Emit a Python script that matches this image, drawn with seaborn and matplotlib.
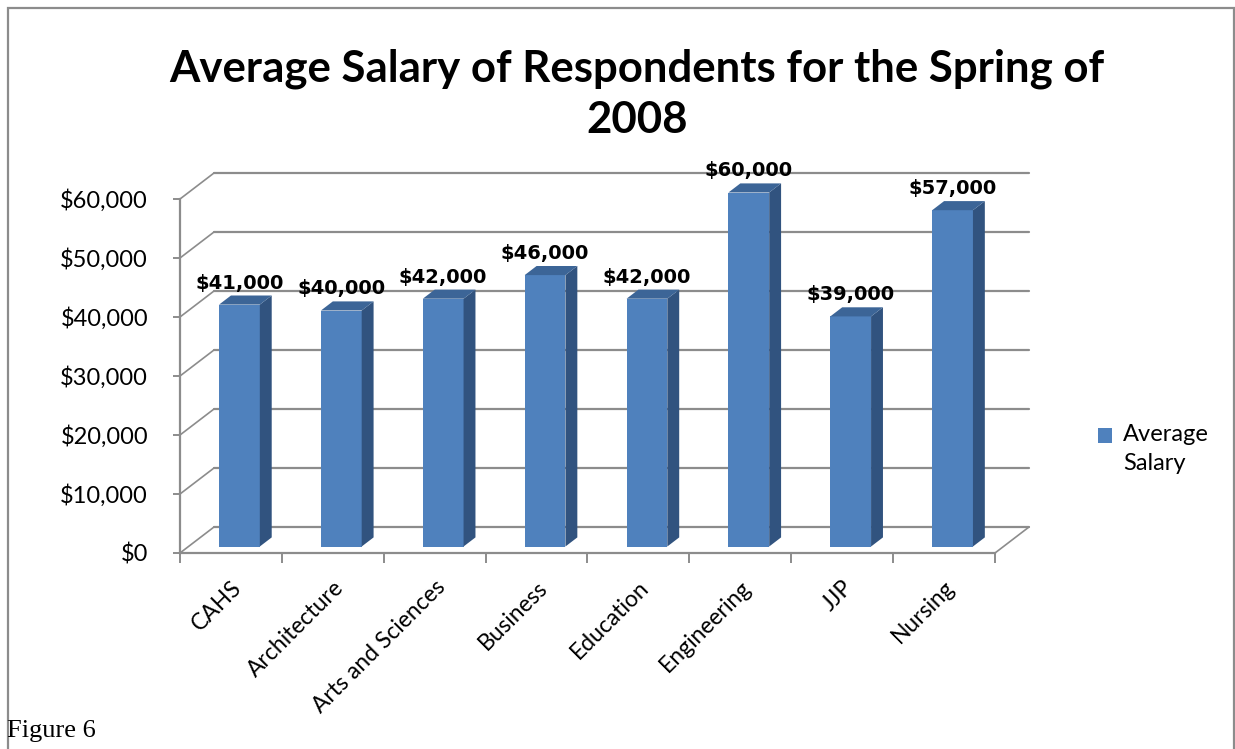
import matplotlib
matplotlib.use("Agg")
import matplotlib.pyplot as plt
import matplotlib.patches as mpatches
import matplotlib.transforms as mtransforms
import matplotlib.ticker as ticker
import seaborn as sns

# Data
schools = ["CAHS", "Architecture", "Arts and Sciences", "Business",
           "Education", "Engineering", "JJP", "Nursing"]
salary = [41000, 40000, 42000, 46000, 42000, 60000, 39000, 57000]
y_ticks = [0, 10000, 20000, 30000, 40000, 50000, 60000]

front_col = "#4F81BD"
side_col = "#31537F"
top_col = "#3C6597"
grid_col = "#8C8C8C"

sns.set_theme(style="white")
plt.rcParams["font.family"] = ["Lato", "DejaVu Sans"]
plt.rcParams["text.color"] = "black"
plt.rcParams["xtick.color"] = "black"
plt.rcParams["ytick.color"] = "black"

W, H = 1235, 749
fig = plt.figure(figsize=(W / 100, H / 100), dpi=100)
ax = fig.add_axes([180 / W, (H - 553) / H, 815 / W, 354 / H])

ax.set_xlim(-0.5, len(schools) - 0.5)
ax.set_ylim(0, 60000)

# pixel -> data conversion for the fake 3D depth
p0 = ax.transData.transform((0, 0))
p1 = ax.transData.transform((1, 10000))
px_per_x = p1[0] - p0[0]
px_per_y = (p1[1] - p0[1]) / 10000
ddx = 34 / px_per_x
ddy = 26 / px_per_y
a, b = 0.25, 0.6  # bar front / back depth fraction

# back wall gridlines and left wall diagonals
x_left, x_right = -0.5, len(schools) - 0.5
for v in y_ticks:
    ax.plot([x_left + ddx, x_right + ddx], [v + ddy, v + ddy],
            color=grid_col, lw=1.6, zorder=0, clip_on=False)
    ax.plot([x_left, x_left + ddx], [v, v + ddy],
            color=grid_col, lw=1.2, zorder=0, clip_on=False)
# floor right edge
ax.plot([x_right, x_right + ddx], [0, ddy], color=grid_col, lw=1.2,
        zorder=0, clip_on=False)

sns.barplot(x=schools, y=salary, color=front_col, saturation=1, width=0.4,
            label="Average\nSalary", ax=ax, zorder=3)

shift = mtransforms.Affine2D().translate(a * ddx, a * ddy) + ax.transData
for patch, v in zip(ax.patches, salary):
    patch.set_transform(shift)
    patch.set_edgecolor("none")
    patch.set_clip_on(False)
    x0, w, h = patch.get_x(), patch.get_width(), patch.get_height()
    xr = x0 + w
    side = [(xr + a * ddx, a * ddy), (xr + a * ddx, h + a * ddy),
            (xr + b * ddx, h + b * ddy), (xr + b * ddx, b * ddy)]
    top = [(x0 + a * ddx, h + a * ddy), (xr + a * ddx, h + a * ddy),
           (xr + b * ddx, h + b * ddy), (x0 + b * ddx, h + b * ddy)]
    ax.add_patch(mpatches.Polygon(side, closed=True, facecolor=side_col,
                                  edgecolor="none", zorder=3, clip_on=False))
    ax.add_patch(mpatches.Polygon(top, closed=True, facecolor=top_col,
                                  edgecolor="none", zorder=3, clip_on=False))
    ax.annotate(f"${v:,.0f}", xy=(x0 + w / 2 + a * ddx, h + b * ddy),
                xytext=(0, 7), textcoords="offset pixels", ha="center",
                va="baseline", fontsize=14, fontweight="bold",
                family="DejaVu Sans", color="black", annotation_clip=False)

# axes styling
for s in ["top", "right"]:
    ax.spines[s].set_visible(False)
for s in ["left", "bottom"]:
    ax.spines[s].set_color(grid_col)
    ax.spines[s].set_linewidth(1.6)

ax.set_yticks(y_ticks)
ax.yaxis.set_major_formatter(ticker.FuncFormatter(lambda v, p: f"${v:,.0f}"))
ax.tick_params(axis="y", which="major", left=True, length=5, width=1.4,
               color=grid_col, labelcolor="black", labelsize=17, pad=18)

ax.xaxis.set_major_locator(ticker.FixedLocator([i - 0.5 for i in range(len(schools) + 1)]))
ax.xaxis.set_major_formatter(ticker.NullFormatter())
ax.xaxis.set_minor_locator(ticker.FixedLocator(list(range(len(schools)))))
ax.xaxis.set_minor_formatter(ticker.FixedFormatter(schools))
ax.tick_params(axis="x", which="major", bottom=True, length=7, width=1.4,
               color=grid_col)
ax.tick_params(axis="x", which="minor", bottom=True, length=0, pad=17,
               labelsize=16.5, labelcolor="black")
for lbl in ax.get_xticklabels(minor=True):
    lbl.set_rotation(45)
    lbl.set_ha("right")
    lbl.set_va("top")
    lbl.set_rotation_mode("anchor")
ax.set_xlabel("")
ax.set_ylabel("")
ax.grid(False)

# legend
leg = ax.legend(loc="upper left", bbox_to_anchor=(1098 / W, 1 - 424 / H),
                bbox_transform=fig.transFigure, frameon=False, fontsize=17,
                handlelength=0.6, handleheight=0.6, handletextpad=0.45,
                borderpad=0, borderaxespad=0)
for t in leg.get_texts():
    t.set_linespacing(1.45)
for hnd in leg.legend_handles:
    hnd.set_y(hnd.get_y() + 10)

# title
fig.text(637 / W, 1 - 133 / H, "Average Salary of Respondents for the Spring of\n2008",
         ha="center", va="baseline", fontsize=31.5, fontweight="bold",
         linespacing=1.32, color="black")

# caption and border
fig.text(7 / W, 1 - 737 / H, "Figure 6", ha="left", va="baseline",
         fontsize=19, family="Liberation Serif", color="black")
fig.add_artist(mpatches.Rectangle((8 / W, -0.01), (1234 - 8) / W, 1.01 - 8 / H,
                                  transform=fig.transFigure, fill=False,
                                  edgecolor="#8C8C8C", lw=1.6))

fig.savefig("out.png", dpi=100)
